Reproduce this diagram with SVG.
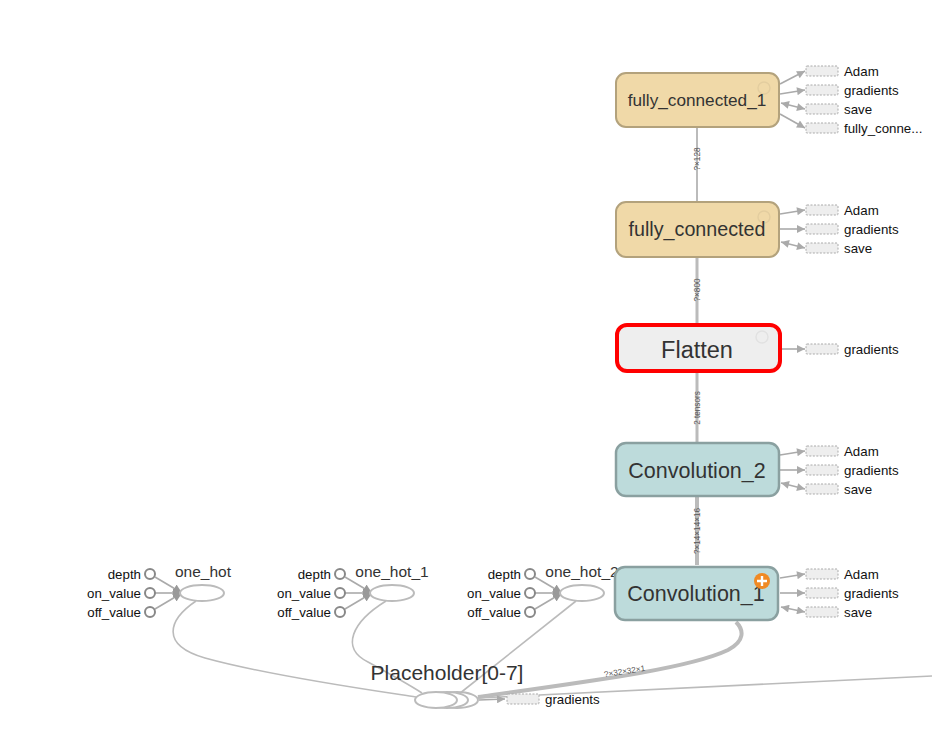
<svg xmlns="http://www.w3.org/2000/svg" width="932" height="738" viewBox="0 0 932 738">
<style>
text{font-family:"Liberation Sans",Arial,sans-serif;}
.nt{fill:#333;text-anchor:middle;}
.sl{font-size:13.3px;fill:#111;}
.ol{font-size:13.3px;fill:#111;text-anchor:end;}
.el{font-size:8.2px;fill:#555;text-anchor:middle;}
.aux{fill:#eee;stroke:#aaa;stroke-width:1;stroke-dasharray:2,1.5;}
.sc{stroke:#aaa;stroke-width:1.6;fill:none;marker-end:url(#arr);}
.sd{stroke:#aaa;stroke-width:1.6;fill:none;marker-end:url(#arr);marker-start:url(#arrs);}
.main{stroke:#bbb;fill:none;}
.thin{stroke:#bbb;stroke-width:1.6;fill:none;}
.pin{fill:#fff;stroke:#888;stroke-width:2;}
.pl{stroke:#aaa;stroke-width:1.6;fill:none;}
.oh{fill:#fff;stroke:#bbb;stroke-width:2;}
.fc{fill:#f0d9a8;stroke:#b3a27c;stroke-width:2;}
.cv{fill:#bddbdb;stroke:#8aa0a0;stroke-width:2.5;}
.ic{fill:none;stroke:#000;stroke-opacity:0.05;stroke-width:1.5;}
</style>
<defs>
<marker id="arr" viewBox="0 0 10 10" refX="10" refY="5" markerWidth="9" markerHeight="8" markerUnits="userSpaceOnUse" orient="auto"><path d="M0,0 L10,5 L0,10 z" fill="#aaa"/></marker>
<marker id="arrs" viewBox="0 0 10 10" refX="10" refY="5" markerWidth="9" markerHeight="8" markerUnits="userSpaceOnUse" orient="auto-start-reverse"><path d="M0,0 L10,5 L0,10 z" fill="#aaa"/></marker>
<marker id="arrg" viewBox="0 0 10 10" refX="10" refY="5" markerWidth="9" markerHeight="9" markerUnits="userSpaceOnUse" orient="auto"><path d="M0,0 L10,5 L0,10 z" fill="#999"/></marker>
</defs>

<g id="connectors">
  <line class="main" x1="697" y1="127" x2="697" y2="201" stroke-width="2"/>
  <line class="main" x1="697" y1="257" x2="697" y2="323" stroke-width="3"/>
  <line class="main" x1="697" y1="373" x2="697" y2="442" stroke-width="3"/>
  <line class="main" x1="697" y1="497" x2="697" y2="565" stroke-width="4"/>
  <text class="el" transform="translate(700,159) rotate(-90)">?×128</text>
  <text class="el" transform="translate(700,290) rotate(-90)">?×800</text>
  <text class="el" transform="translate(700,408) rotate(-90)">2 tensors</text>
  <text class="el" transform="translate(700,531) rotate(-90)">?×14×14×16</text>
  <path class="main" stroke-width="4" d="M478,697 C600,680 690,668 728,650 C745,641 744,630 736,622"/>
  <text class="el" transform="translate(625,674) rotate(-9)">?×32×32×1</text>
  <line class="thin" x1="478" y1="698" x2="932" y2="676"/>
  <path class="thin" d="M196,601 C168,620 160,645 205,658 C270,676 370,690 416,697"/>
  <path class="thin" d="M386,601 C352,622 340,648 368,662 C390,674 408,684 422,693"/>
  <line class="thin" x1="576" y1="601" x2="459" y2="694"/>
  <line class="sc" x1="780" y1="84" x2="805" y2="71"/>
  <line class="sc" x1="780" y1="94" x2="805" y2="90"/>
  <line class="sd" x1="781" y1="103" x2="805" y2="109"/>
  <line class="sc" x1="780" y1="114" x2="805" y2="128"/>
  <line class="sc" x1="780" y1="214" x2="805" y2="210"/>
  <line class="sc" x1="780" y1="229" x2="805" y2="229"/>
  <line class="sd" x1="781" y1="242" x2="805" y2="248"/>
  <line class="sc" x1="782" y1="349" x2="805" y2="349"/>
  <line class="sc" x1="780" y1="455" x2="805" y2="451"/>
  <line class="sc" x1="780" y1="470" x2="805" y2="470"/>
  <line class="sd" x1="781" y1="483" x2="805" y2="489"/>
  <line class="sc" x1="780" y1="578" x2="805" y2="574"/>
  <line class="sc" x1="780" y1="593" x2="805" y2="593"/>
  <line class="sd" x1="781" y1="607" x2="805" y2="612"/>
  <line class="sc" x1="479" y1="700" x2="505" y2="699"/>
</g>

<g id="aux-nodes">
  <rect class="aux" x="806" y="66" width="32" height="10" rx="1"/><text class="sl" x="844" y="75.5">Adam</text>
  <rect class="aux" x="806" y="85" width="32" height="10" rx="1"/><text class="sl" x="844" y="94.5">gradients</text>
  <rect class="aux" x="806" y="104" width="32" height="10" rx="1"/><text class="sl" x="844" y="113.5">save</text>
  <rect class="aux" x="806" y="123" width="32" height="10" rx="1"/><text class="sl" x="844" y="132.5">fully_conne...</text>
  <rect class="aux" x="806" y="205" width="32" height="10" rx="1"/><text class="sl" x="844" y="214.5">Adam</text>
  <rect class="aux" x="806" y="224" width="32" height="10" rx="1"/><text class="sl" x="844" y="233.5">gradients</text>
  <rect class="aux" x="806" y="243" width="32" height="10" rx="1"/><text class="sl" x="844" y="252.5">save</text>
  <rect class="aux" x="806" y="344" width="32" height="10" rx="1"/><text class="sl" x="844" y="353.5">gradients</text>
  <rect class="aux" x="806" y="446" width="32" height="10" rx="1"/><text class="sl" x="844" y="455.5">Adam</text>
  <rect class="aux" x="806" y="465" width="32" height="10" rx="1"/><text class="sl" x="844" y="474.5">gradients</text>
  <rect class="aux" x="806" y="484" width="32" height="10" rx="1"/><text class="sl" x="844" y="493.5">save</text>
  <rect class="aux" x="806" y="569" width="32" height="10" rx="1"/><text class="sl" x="844" y="578.5">Adam</text>
  <rect class="aux" x="806" y="588" width="32" height="10" rx="1"/><text class="sl" x="844" y="597.5">gradients</text>
  <rect class="aux" x="806" y="607" width="32" height="10" rx="1"/><text class="sl" x="844" y="616.5">save</text>
  <rect class="aux" x="507" y="694" width="32" height="10" rx="1"/><text class="sl" x="545" y="703.5">gradients</text>
</g>

<g id="one_hot">
  <line class="pl" x1="155" y1="577" x2="182" y2="593" marker-end="url(#arrg)"/>
  <line class="pl" x1="155" y1="593" x2="182" y2="593" marker-end="url(#arrg)"/>
  <line class="pl" x1="155" y1="609" x2="182" y2="593" marker-end="url(#arrg)"/>
  <circle class="pin" cx="150" cy="574" r="5"/><text class="ol" x="141" y="578.5">depth</text>
  <circle class="pin" cx="150" cy="593" r="5"/><text class="ol" x="141" y="597.5">on_value</text>
  <circle class="pin" cx="150" cy="612" r="5"/><text class="ol" x="141" y="616.5">off_value</text>
  <ellipse class="oh" cx="202" cy="593" rx="22" ry="8"/>
  <text x="203" y="577" font-size="15.5" fill="#333" text-anchor="middle">one_hot</text>
</g>
<g id="one_hot_1">
  <line class="pl" x1="345" y1="577" x2="372" y2="593" marker-end="url(#arrg)"/>
  <line class="pl" x1="345" y1="593" x2="372" y2="593" marker-end="url(#arrg)"/>
  <line class="pl" x1="345" y1="609" x2="372" y2="593" marker-end="url(#arrg)"/>
  <circle class="pin" cx="340" cy="574" r="5"/><text class="ol" x="331" y="578.5">depth</text>
  <circle class="pin" cx="340" cy="593" r="5"/><text class="ol" x="331" y="597.5">on_value</text>
  <circle class="pin" cx="340" cy="612" r="5"/><text class="ol" x="331" y="616.5">off_value</text>
  <ellipse class="oh" cx="392" cy="593" rx="22" ry="8"/>
  <text x="392" y="577" font-size="15.5" fill="#333" text-anchor="middle">one_hot_1</text>
</g>
<g id="one_hot_2">
  <line class="pl" x1="535" y1="577" x2="562" y2="593" marker-end="url(#arrg)"/>
  <line class="pl" x1="535" y1="593" x2="562" y2="593" marker-end="url(#arrg)"/>
  <line class="pl" x1="535" y1="609" x2="562" y2="593" marker-end="url(#arrg)"/>
  <circle class="pin" cx="530" cy="574" r="5"/><text class="ol" x="521" y="578.5">depth</text>
  <circle class="pin" cx="530" cy="593" r="5"/><text class="ol" x="521" y="597.5">on_value</text>
  <circle class="pin" cx="530" cy="612" r="5"/><text class="ol" x="521" y="616.5">off_value</text>
  <ellipse class="oh" cx="582" cy="593" rx="22" ry="8"/>
  <text x="582" y="577" font-size="15.5" fill="#333" text-anchor="middle">one_hot_2</text>
</g>

<g id="placeholder">
  <ellipse class="oh" cx="457" cy="700" rx="21" ry="8"/>
  <ellipse class="oh" cx="447" cy="700" rx="21" ry="8"/>
  <ellipse class="oh" cx="436" cy="700" rx="21" ry="8"/>
  <text x="447" y="680" font-size="21" fill="#333" text-anchor="middle">Placeholder[0-7]</text>
</g>

<g id="fully_connected_1">
  <rect class="fc" x="616" y="73" width="163" height="54" rx="10"/>
  <circle class="ic" cx="764" cy="88" r="6"/>
  <text class="nt" x="697" y="106" font-size="17.2">fully_connected_1</text>
</g>
<g id="fully_connected">
  <rect class="fc" x="616" y="202" width="163" height="55" rx="10"/>
  <circle class="ic" cx="764" cy="217" r="6"/>
  <text class="nt" x="697" y="236" font-size="19.7">fully_connected</text>
</g>
<g id="Flatten">
  <rect x="617" y="325" width="163" height="46" rx="10" fill="#eeeeee" stroke="#ff0000" stroke-width="4"/>
  <circle class="ic" cx="762" cy="337" r="6"/>
  <text class="nt" x="697" y="357.5" font-size="23.5">Flatten</text>
</g>
<g id="Convolution_2">
  <rect class="cv" x="616" y="443" width="163" height="53" rx="10"/>
  <text class="nt" x="697" y="477.5" font-size="21.5">Convolution_2</text>
</g>
<g id="Convolution_1">
  <rect class="cv" x="615" y="567" width="163" height="53" rx="10" stroke="#86999a" stroke-width="4"/>
  <text class="nt" x="696" y="600.5" font-size="21.5">Convolution_1</text>
  <circle cx="762" cy="581" r="8" fill="#f08a24"/>
  <path d="M762,576 V586 M757,581 H767" stroke="#fff" stroke-width="2.4"/>
</g>
</svg>
